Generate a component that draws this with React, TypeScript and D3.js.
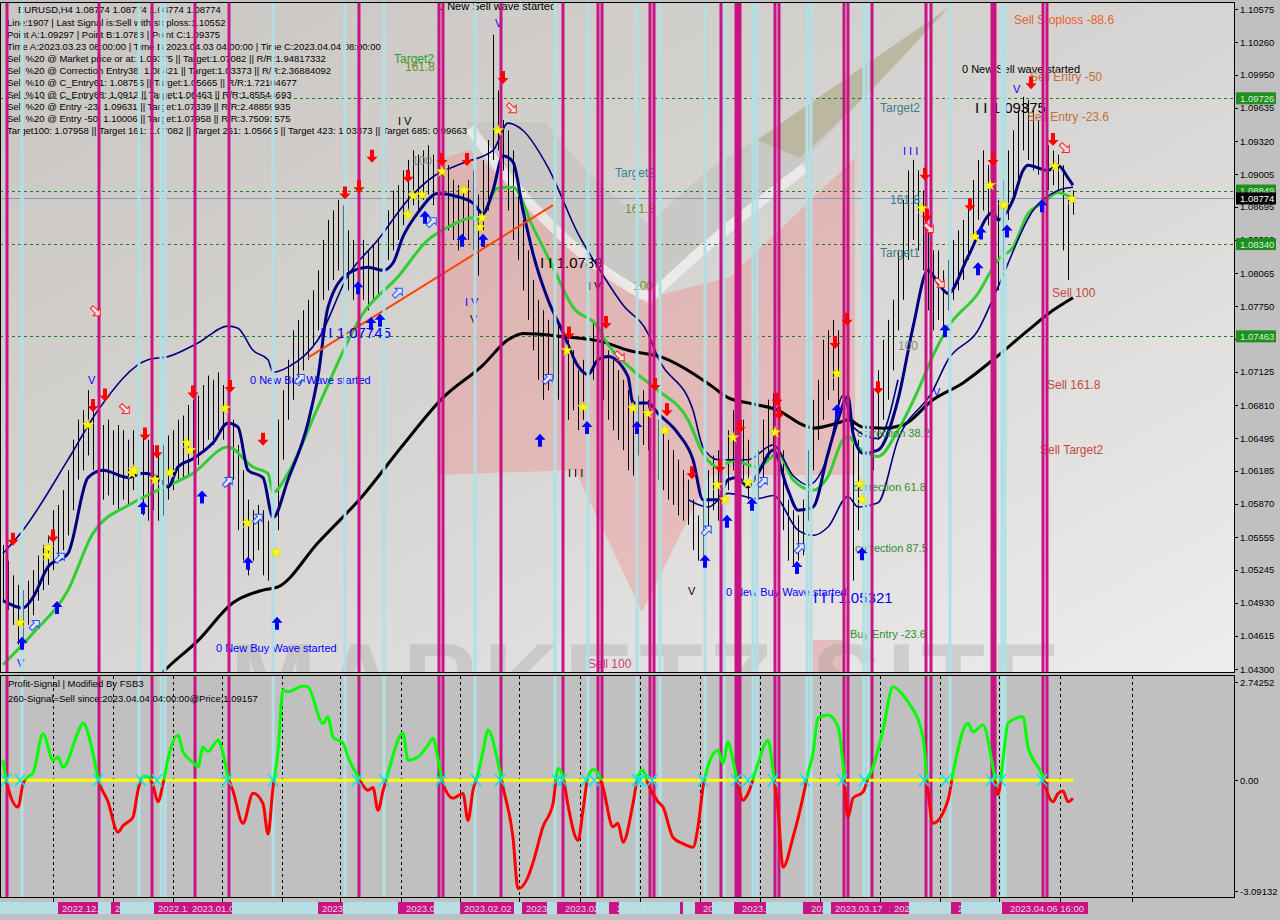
import * as d3 from 'd3';

// ---- price bars (pips, value / 10000) ----
const barHigh = [
  10548, 10533, 10519, 10510, 10505, 10514, 10524, 10538, 10548, 10557,
  10581, 10586, 10600, 10619, 10648, 10667, 10676, 10695, 10686, 10736,
  10662, 10667, 10657, 10662, 10657, 10648, 10657, 10662, 10657, 10648,
  10643, 10638, 10643, 10652, 10657, 10667, 10671, 10681, 10686, 10690,
  10700, 10709, 10705, 10712, 10700, 10695, 10667, 10643, 10619, 10591,
  10581, 10586, 10581, 10571, 10610, 10667, 10695, 10724, 10752, 10762,
  10771, 10781, 10790, 10809, 10838, 10857, 10866, 10876, 10871, 10847,
  10838, 10833, 10838, 10828, 10833, 10838, 10847, 10866, 10885, 10890,
  10904, 10914, 10923, 10919, 10923, 10928, 10919, 10925, 10923, 10909,
  10895, 10890, 10885, 10895, 10904, 10881, 10914, 10933, 11033, 10980,
  10952, 10942, 10923, 10895, 10857, 10828, 10800, 10781, 10771, 10762,
  10771, 10762, 10752, 10743, 10733, 10714, 10724, 10743, 10762, 10752,
  10743, 10733, 10724, 10714, 10705, 10695, 10686, 10690, 10695, 10686,
  10681, 10667, 10657, 10648, 10638, 10629, 10619, 10610, 10591, 10576,
  10591, 10619, 10633, 10638, 10648, 10657, 10676, 10681, 10667, 10648,
  10633, 10638, 10667, 10686, 10692, 10676, 10638, 10591, 10581, 10576,
  10591, 10638, 10686, 10705, 10743, 10752, 10762, 10752, 10766, 10743,
  10667, 10648, 10648, 10667, 10695, 10714, 10743, 10762, 10781, 10828,
  10876, 10904, 10914, 10904, 10885, 10847, 10828, 10828, 10809, 10819,
  10838, 10847, 10857, 10876, 10895, 10914, 10923, 10909, 10885, 10876,
  10895, 10923, 10942, 10961, 10974, 10971, 10961, 10952, 10942, 10928,
  10923, 10919, 10909, 10876, 10885,
];
const barLow = [
  10495, 10486, 10472, 10453, 10457, 10472, 10481, 10495, 10505, 10510,
  10524, 10533, 10543, 10557, 10581, 10610, 10619, 10633, 10619, 10610,
  10591, 10595, 10586, 10581, 10591, 10586, 10600, 10591, 10576, 10571,
  10581, 10571, 10576, 10591, 10600, 10610, 10610, 10614, 10629, 10624,
  10638, 10648, 10643, 10657, 10648, 10638, 10610, 10562, 10533, 10519,
  10533, 10543, 10519, 10514, 10486, 10562, 10629, 10667, 10686, 10705,
  10714, 10724, 10738, 10752, 10781, 10790, 10800, 10809, 10804, 10790,
  10781, 10776, 10781, 10771, 10781, 10785, 10795, 10819, 10828, 10838,
  10852, 10862, 10871, 10866, 10876, 10881, 10871, 10876, 10862, 10847,
  10838, 10828, 10833, 10838, 10828, 10804, 10847, 10866, 10914, 10923,
  10904, 10866, 10838, 10819, 10790, 10762, 10733, 10705, 10686, 10695,
  10705, 10686, 10667, 10667, 10676, 10657, 10667, 10686, 10705, 10695,
  10686, 10667, 10657, 10648, 10638, 10619, 10614, 10633, 10643, 10638,
  10624, 10610, 10600, 10591, 10586, 10576, 10571, 10567, 10543, 10533,
  10533, 10562, 10581, 10571, 10591, 10600, 10619, 10629, 10610, 10591,
  10581, 10591, 10610, 10629, 10638, 10619, 10562, 10533, 10529, 10533,
  10538, 10571, 10619, 10648, 10667, 10686, 10695, 10676, 10686, 10648,
  10514, 10562, 10581, 10600, 10619, 10648, 10667, 10686, 10714, 10752,
  10781, 10819, 10838, 10828, 10809, 10771, 10752, 10762, 10752, 10771,
  10781, 10790, 10800, 10819, 10838, 10857, 10866, 10852, 10819, 10790,
  10809, 10857, 10876, 10895, 10923, 10914, 10904, 10900, 10890, 10885,
  10890, 10885, 10828, 10800, 10862,
];

// ---- moving averages / bands (bar index, pips) ----
const blackMaBars = [28, 32, 39, 46, 52, 55, 63, 72, 80, 88, 96, 101, 104, 112, 120, 125, 132, 138, 142, 145, 150, 155, 160, 162, 167, 169, 172, 176, 180, 186, 192, 198, 205, 210, 214];
const blackMaVals = [10405, 10427, 10457, 10493, 10505, 10508, 10550, 10595, 10643, 10688, 10719, 10743, 10749, 10746, 10741, 10733, 10726, 10711, 10698, 10688, 10682, 10676, 10662, 10659, 10664, 10667, 10660, 10659, 10662, 10686, 10702, 10724, 10752, 10771, 10783];

const greenMaBars = [0, 6, 13, 18, 26, 31, 38, 45, 50, 53, 54, 57, 63, 72, 79, 85, 89, 94, 95, 99, 102, 106, 110, 114, 119, 120, 126, 131, 137, 140, 143, 146, 151, 155, 158, 162, 165, 168, 169, 171, 175, 179, 183, 186, 189, 195, 199, 202, 205, 208, 211, 214];
const greenMaVals = [10434, 10464, 10505, 10559, 10588, 10600, 10616, 10641, 10622, 10616, 10598, 10616, 10679, 10768, 10803, 10838, 10850, 10859, 10857, 10887, 10888, 10850, 10812, 10774, 10755, 10746, 10714, 10695, 10667, 10635, 10622, 10628, 10622, 10635, 10610, 10600, 10613, 10648, 10651, 10641, 10632, 10657, 10695, 10728, 10755, 10787, 10819, 10831, 10863, 10873, 10883, 10877];

const navyBars = [0, 4, 6, 9, 13, 17, 20, 25, 28, 31, 33, 35, 38, 42, 45, 47, 49, 52, 54, 57, 61, 63, 65, 69, 73, 76, 78, 80, 83, 87, 91, 94, 96, 98, 100, 102, 104, 106, 109, 112, 115, 117, 119, 121, 125, 126, 129, 131, 135, 138, 140, 143, 145, 147, 149, 151, 154, 157, 159, 162, 165, 167, 169, 170, 172, 175, 179, 182, 185, 187, 189, 193, 198, 199, 202, 204, 205, 209, 211, 213, 214];
const navyVals = [10495, 10488, 10498, 10527, 10540, 10612, 10619, 10612, 10616, 10612, 10603, 10622, 10630, 10645, 10664, 10660, 10619, 10612, 10574, 10610, 10664, 10708, 10774, 10806, 10812, 10809, 10816, 10841, 10864, 10882, 10879, 10873, 10863, 10885, 10918, 10912, 10866, 10825, 10781, 10750, 10718, 10710, 10724, 10727, 10708, 10683, 10683, 10673, 10654, 10629, 10591, 10591, 10610, 10612, 10603, 10616, 10638, 10600, 10581, 10584, 10635, 10667, 10689, 10654, 10635, 10638, 10686, 10755, 10809, 10797, 10787, 10822, 10864, 10857, 10876, 10904, 10909, 10904, 10909, 10897, 10890];

const upperBars = [0, 4, 13, 19, 29, 33, 39, 45, 47, 50, 53, 54, 57, 63, 69, 75, 81, 86, 92, 98, 101, 104, 109, 115, 119, 124, 129, 131, 138, 140, 143, 149, 154, 158, 161, 165, 168, 170, 175, 179];
const upperVals = [10540, 10562, 10629, 10676, 10724, 10727, 10740, 10756, 10754, 10733, 10724, 10712, 10717, 10743, 10804, 10838, 10876, 10898, 10911, 10923, 10949, 10942, 10907, 10844, 10812, 10776, 10749, 10726, 10676, 10641, 10629, 10629, 10643, 10614, 10605, 10633, 10690, 10660, 10649, 10705];

const lowerBars = [137, 141, 145, 151, 154, 159, 162, 165, 169, 171, 175, 179, 186, 189, 195, 199, 206, 211, 214];
const lowerVals = [10591, 10584, 10597, 10592, 10595, 10562, 10557, 10565, 10594, 10584, 10588, 10648, 10695, 10724, 10752, 10793, 10866, 10885, 10888];

const trendBars = [61, 110];
const trendVals = [10726, 10871];

// ---- signals (bar index, pips) ----
const sellArrowBars = [2, 10, 18, 20.4, 28.4, 30.8, 38, 45.4, 52, 68.4, 71.2, 73.8, 81, 87.8, 92.8, 100, 113.2, 120.6, 130.4, 132.8, 137.8, 143.4, 147.4, 154.8, 155.2, 166.4, 168.8, 175, 184.4, 184.8, 193.4, 198, 205.6, 210];
const sellArrowVals = [10553, 10556, 10680, 10690, 10653, 10636, 10693, 10698, 10648, 10882, 10888, 10917, 10898, 10914, 10914, 10992, 10749, 10759, 10700, 10676, 10616, 10622, 10660, 10686, 10673, 10740, 10762, 10697, 10900, 10861, 10871, 10914, 10987, 10933];
const buyArrowBars = [3.8, 10.8, 28, 39.8, 49, 54.8, 71, 73.6, 75.4, 84.4, 91.8, 96, 107.4, 116.8, 126.8, 140.4, 144.8, 149.8, 158.8, 166.8, 171.8, 188.4, 195, 195.6, 200.8, 207.8];
const buyArrowVals = [10455, 10489, 10584, 10594, 10531, 10474, 10793, 10759, 10762, 10860, 10838, 10838, 10648, 10660, 10660, 10533, 10571, 10587, 10527, 10676, 10540, 10752, 10811, 10845, 10847, 10871];
const starBars = [3.4, 9, 8.8, 17, 25.8, 26.2, 30.4, 33.4, 36.8, 37.4, 44.4, 48.8, 54.6, 81, 82, 83.8, 87.8, 92.2, 95.4, 95.8, 99, 112.8, 116, 126, 129, 132.4, 142.8, 144.4, 146, 149, 154.4, 166.8, 171.4, 171.8, 183.8, 194.4, 197.4, 200.2, 210.4, 213.8];
const starVals = [10474, 10545, 10538, 10662, 10616, 10619, 10610, 10617, 10645, 10638, 10678, 10569, 10541, 10862, 10880, 10881, 10903, 10885, 10850, 10859, 10942, 10733, 10679, 10678, 10673, 10657, 10605, 10591, 10650, 10607, 10655, 10711, 10606, 10591, 10868, 10841, 10890, 10871, 10908, 10877];
const hollowSellBars = [18.6, 24.4, 101.8, 123.4, 185.2, 187.4, 212.4];
const hollowSellVals = [10770, 10677, 10963, 10727, 10849, 10797, 10925];
const hollowBuyBars = [6.4, 11.4, 45, 51, 59.4, 79, 85.8, 109, 140.8, 152, 159.4];
const hollowBuyVals = [10472, 10536, 10608, 10573, 10706, 10788, 10855, 10706, 10562, 10608, 10545];

const chartLabels = [
  { t: '0 New Sell wave started', b: 87, p: 11057, k: 'black' },
  { t: '0 New Sell wave started', b: 191.8, p: 10997, k: 'black' },
  { t: 'I V', b: 79, p: 10947, k: 'black' },
  { t: 'I I  1.0789', b: 107.4, p: 10811, k: 'bigBlack' },
  { t: 'I V', b: 117, p: 10790, k: 'black' },
  { t: 'V', b: 93.4, p: 10759, k: 'black' },
  { t: 'I I I', b: 113, p: 10613, k: 'black' },
  { t: 'V', b: 137, p: 10500, k: 'black' },
  { t: 'I I    1.09375', b: 194.4, p: 10959, k: 'bigBlack' },
  { t: 'V', b: 98.4, p: 11040, k: 'blue' },
  { t: 'I V', b: 92.4, p: 10775, k: 'blue' },
  { t: 'I I 1.07745', b: 63.4, p: 10745, k: 'bigBlue' },
  { t: '0 New Buy Wave started', b: 49.4, p: 10701, k: 'blue' },
  { t: 'V', b: 17, p: 10701, k: 'blue' },
  { t: 'V', b: 2.8, p: 10432, k: 'blue' },
  { t: '0 New Buy Wave started', b: 42.6, p: 10446, k: 'blue' },
  { t: '0 New Buy Wave started', b: 144.6, p: 10499, k: 'blue' },
  { t: 'I I I I 1.05321', b: 160.4, p: 10493, k: 'bigBlue' },
  { t: 'I I I', b: 180, p: 10919, k: 'blue' },
  { t: 'V', b: 202, p: 10978, k: 'blue' },
  { t: 'V', b: 186, p: 10690, k: 'blue' },
  { t: 'Target2', b: 78.2, p: 11006, k: 'green' },
  { t: '161.8', b: 80.4, p: 10999, k: 'olive' },
  { t: '100', b: 81.8, p: 10909, k: 'gray' },
  { t: 'Target2', b: 122.4, p: 10898, k: 'teal' },
  { t: '161.8', b: 124.4, p: 10864, k: 'olive' },
  { t: '100', b: 126, p: 10790, k: 'olive' },
  { t: 'Target2', b: 175.4, p: 10960, k: 'teal' },
  { t: '161.8', b: 177.4, p: 10872, k: 'teal' },
  { t: 'Target1', b: 175.4, p: 10822, k: 'teal' },
  { t: '100', b: 179, p: 10733, k: 'gray' },
  { t: 'correction 38.2', b: 170.8, p: 10651, k: 'corr' },
  { t: 'correction 61.8', b: 170, p: 10599, k: 'corr' },
  { t: 'correction 87.5', b: 170.4, p: 10541, k: 'corr' },
  { t: 'Buy Entry -23.6', b: 169.4, p: 10459, k: 'corr' },
  { t: 'Sell Stoploss -88.6', b: 202.2, p: 11043, k: 'stop' },
  { t: 'Sell Entry -50', b: 205.4, p: 10989, k: 'sell' },
  { t: 'Sell Entry -23.6', b: 204.8, p: 10951, k: 'sell' },
  { t: 'Sell 100', b: 209.8, p: 10784, k: 'sellRed' },
  { t: 'Sell 161.8', b: 208.8, p: 10696, k: 'sellRed' },
  { t: 'Sell Target2', b: 207.4, p: 10634, k: 'sellRed' },
  { t: 'Sell 100', b: 117, p: 10431, k: 'sellPink' },
];

const infoLines = [
  'Line:1907 | Last Signal is:Sell with stoploss:1.10552',
  'Point A:1.09297 | Point B:1.0788 | Point C:1.09375',
  'Time A:2023.03.23 08:00:00 | Time B:2023.04.03 04:00:00 | Time C:2023.04.04 08:00:00',
  'Sell %20 @ Market price or at: 1.09375 || Target:1.07082 || R/R:1.94817332',
  'Sell %20 @ Correction Entry38: 1.08421 || Target:1.03373 || R/R:2.36884092',
  'Sell %10 @ C_Entry61: 1.08756 || Target:1.05665 || R/R:1.72104677',
  'Sell %10 @ C_Entry88: 1.0912 || Target:1.06463 || R/R:1.85544693',
  'Sell %20 @ Entry -23: 1.09631 || Target:1.07339 || R/R:2.48859935',
  'Sell %20 @ Entry -50: 1.10006 || Target:1.07958 || R/R:3.75091575',
  'Target100: 1.07958 || Target 161: 1.07082 || Target 261: 1.05665 || Target 423: 1.03373 || Target 685: 0.99663',
];

// ---- oscillator ----
const oscBars = [0, 1, 3, 4, 5, 6, 8, 10, 11, 12, 15, 16, 18, 19, 21, 23, 24, 26, 27, 28, 29, 30, 31, 32, 33, 35, 36, 38, 39, 40, 41, 43, 44, 45, 46, 48, 50, 52, 53, 54, 55, 56, 57, 60, 61, 64, 65, 66, 68, 69, 71, 72, 73, 74, 75, 76, 77, 80, 81, 83, 85, 86, 87, 88, 90, 92, 93, 94, 95, 96, 97, 99, 100, 102, 103, 105, 106, 108, 110, 111, 112, 113, 115, 116, 117, 118, 119, 120, 122, 123, 124, 126, 127, 128, 129, 131, 132, 134, 136, 138, 139, 140, 141, 143, 144, 145, 146, 147, 148, 149, 151, 153, 154, 155, 156, 158, 160, 161, 162, 163, 165, 167, 168, 169, 170, 172, 173, 174, 176, 178, 180, 181, 184, 185, 186, 189, 190, 193, 194, 196, 198, 199, 200, 201, 204, 205, 207, 208, 209, 210, 211, 212, 213, 214];
const oscVals = [0.56, -0.2, -0.75, -0.1, 0.1, 0.2, 1.3, 0.56, 0.65, 0.36, 1.34, 1.6, 0.75, 0.05, -0.6, -1.45, -1.27, -1.03, -0.28, 0.1, 0.1, -0.15, -0.6, -0.1, 0.6, 1.26, 0.8, 0.5, 0.37, 0.93, 0.8, 1.12, 0.75, 0.1, -0.3, -1.2, -0.36, -0.65, -1.5, -0.2, 0.8, 2.52, 2.47, 2.63, 2.6, 1.59, 1.77, 1.2, 1.04, 0.65, 0.1, -0.15, -0.28, -0.2, -0.84, -0.3, 0.2, 1.31, 0.56, 0.65, 0.98, 1.17, 0.6, -0.1, -0.5, -0.37, -1.12, -0.28, 0.2, 0.8, 1.4, 0.5, -0.19, -1.6, -3.03, -2.7, -2.3, -1.3, -0.65, 0.33, 0.1, -0.7, -1.68, -0.84, 0.1, 0.3, 0.2, -0.2, -1.3, -1.2, -1.73, -0.65, 0.1, 0.28, -0.1, -0.6, -0.75, -1.6, -1.77, -1.87, -1.3, -0.2, 0.4, 0.84, 0.47, 1.07, 0.56, -0.1, -0.56, -0.37, 0.47, 1.12, 0.28, -0.8, -2.43, -1.59, -0.47, 0.2, 0.75, 1.74, 1.82, 1.49, 0.47, -1.03, -0.5, -0.33, 0.05, 0.37, 1.4, 2.61, 2.38, 2.19, 1.2, -0.3, -1.2, -0.56, 0.2, 1.59, 1.35, 1.54, 0.37, -0.4, 0.56, 1.6, 1.77, 0.93, 0.37, 0.1, -0.4, -0.6, -0.37, -0.3, -0.6, -0.5];
const crossBars = [0.6, 3.4, 19, 27.6, 30.8, 44.8, 54, 70.8, 76.2, 87.6, 94.6, 99.4, 110.8, 111.8, 116.6, 118.2, 126.8, 127.4, 129.8, 140, 146.6, 149, 154, 160.4, 167.8, 172.2, 184.2, 188.6, 197.6, 199.6, 207.8];

// ---- time objects ----
const magentaLines = [0.8, 19.2, 29.8, 38.4, 45.2, 71.2, 87.2, 88, 99.6, 112, 119, 119.8, 129.4, 130.2, 143.6, 146.6, 147, 147.4, 154.4, 155.2, 168.2, 169, 173.8, 184.6, 185.6, 197.8, 198.1, 198.4, 208, 208.8];
const magentaTimes = ['2022.12.07 16:00', '2022.12.19 08:00', '2022.12.23 20:00', '2022.12.29 08:00', '2023.01.03 04:00', '2023.01.18 00:00', '2023.01.26 04:00', '2023.01.26 20:00', '2023.02.02 16:00', '2023.02.09 20:00', '2023.02.14 16:00', '2023.02.15 00:00', '2023.02.21 00:00', '2023.02.21 08:00', '2023.02.28 20:00', '2023.03.02 04:00', '2023.03.02 08:00', '2023.03.02 12:00', '2023.03.07 08:00', '2023.03.07 16:00', '2023.03.15 04:00', '2023.03.15 12:00', '2023.03.17 12:00', '2023.03.23 20:00', '2023.03.24 08:00', '2023.03.31 08:00', '2023.03.31 12:00', '2023.03.31 16:00', '2023.04.06 12:00', '2023.04.06 16:00'];
const lightBlueLines = [3.8, 27.2, 31.6, 32.4, 54, 68.4, 76.2, 94.4, 110.4, 117, 126.8, 131.4, 140.4, 144.2, 150, 150.8, 160.8, 161.6, 172.2, 173, 189.4, 199.8, 200.4];
const lightBlueTimes = ['2022.12.09 00:00', '2022.12.22 16:00', '2022.12.26 12:00', '2022.12.26 20:00', '2023.01.06 20:00', '2023.01.16 16:00', '2023.01.20 00:00', '2023.01.31 12:00', '2023.02.09 04:00', '2023.02.13 20:00', '2023.02.20 00:00', '2023.02.21 20:00', '2023.02.27 12:00', '2023.03.01 04:00', '2023.03.03 12:00', '2023.03.03 20:00', '2023.03.10 00:00', '2023.03.10 08:00', '2023.03.16 16:00', '2023.03.17 04:00', '2023.03.27 20:00', '2023.04.03 04:00', '2023.04.03 12:00'];
const sepBars = [10, 22, 34, 43.8, 55.8, 67.4, 79.6, 91.4, 103.2, 115.4, 127.4, 139.4, 151.4, 163.4, 175.4, 187.4, 199.2, 211.4, 225.8];

// ---- axes ----
const priceTicks = [1.10575, 1.1026, 1.0995, 1.09635, 1.0932, 1.09005, 1.08695, 1.0838, 1.08065, 1.0775, 1.0744, 1.07125, 1.0681, 1.06495, 1.06185, 1.0587, 1.05555, 1.05245, 1.0493, 1.04615, 1.043];
const levelPrices = [1.09726, 1.08849, 1.0834, 1.07463];
const lastPrice = 1.08774;
const oscTicks = [2.74252, 0, -3.09132];

const FONT = '"Liberation Sans", Arial, sans-serif';
const MAG = '#c71585';
const LBLUE = '#b0e0e6';

const labelStyle: Record<string, { fill: string; size: number }> = {
  black: { fill: '#000000', size: 11 },
  bigBlack: { fill: '#000000', size: 15 },
  blue: { fill: '#0000ff', size: 11 },
  bigBlue: { fill: '#0000ff', size: 15 },
  green: { fill: '#2e9a2e', size: 12 },
  teal: { fill: '#3a7f8c', size: 12 },
  olive: { fill: '#6f8f28', size: 12 },
  gray: { fill: '#8a8a80', size: 12 },
  corr: { fill: '#2e8b2e', size: 11 },
  sell: { fill: '#c0703a', size: 12 },
  stop: { fill: '#e8602a', size: 12 },
  sellRed: { fill: '#c04a40', size: 12 },
  sellPink: { fill: '#c0407a', size: 12 },
};

const App = () => {
  const x = d3.scaleLinear().domain([0, barHigh.length - 1]).range([3, 1073]);
  const y = d3.scaleLinear().domain([1.043, 1.10575]).range([669, 9]);
  const yo = d3.scaleLinear().domain([-3.09132, 2.74252]).range([891, 682]);
  const py = (v: number) => y(v / 10000);
  const zeroY = yo(0);
  const crisp = (v: number) => Math.round(v) + 0.5;

  const curve = (bars: number[], vals: number[]) =>
    d3
      .line<number>()
      .x((b) => x(b))
      .y((_, k) => py(vals[k]))
      .curve(d3.curveMonotoneX)(bars) ?? '';

  const oscPath =
    d3
      .line<number>()
      .x((b) => x(b))
      .y((_, k) => yo(oscVals[k]))
      .curve(d3.curveMonotoneX)(oscBars) ?? '';

  const star = d3.symbol().type(d3.symbolStar).size(42)() ?? '';
  const downArrow = 'M-2,-7H2V0H5.5L0,6L-5.5,0H-2Z';
  const upArrow = 'M-2,7H2V0H5.5L0,-6L-5.5,0H-2Z';
  const hollow = 'M-6,-2H1V-5L6,0L1,5V2H-6Z';

  const timeLabels = [
    ...lightBlueLines.map((b, k) => ({ b, t: lightBlueTimes[k], c: LBLUE, tc: '#cfd6d8' })),
    ...magentaLines.map((b, k) => ({ b, t: magentaTimes[k], c: MAG, tc: '#f2d2e2' })),
  ].sort((a, b) => a.b - b.b);

  return (
    <svg
      width={1280}
      height={920}
      style={{ position: 'absolute', left: 0, top: 0, display: 'block', background: '#c0c0c0' }}
      fontFamily={FONT}
    >
      <defs>
        <linearGradient id="mainBg" x1="0" y1="0" x2="1" y2="1">
          <stop offset="0" stopColor="#c8c5c2" />
          <stop offset="0.55" stopColor="#d9d7d5" />
          <stop offset="1" stopColor="#eeedec" />
        </linearGradient>
        <clipPath id="mainClip">
          <rect x={1} y={3} width={1233} height={669} />
        </clipPath>
        <clipPath id="oscClip">
          <rect x={1} y={676} width={1233} height={221} />
        </clipPath>
        <clipPath id="oscUp">
          <rect x={0} y={676} width={1234} height={zeroY - 676} />
        </clipPath>
        <clipPath id="oscDn">
          <rect x={0} y={zeroY} width={1234} height={897 - zeroY} />
        </clipPath>
      </defs>

      {/* main panel */}
      <rect x={0.5} y={2.5} width={1234} height={670} fill="url(#mainBg)" />
      <g clipPath="url(#mainClip)">
        {/* watermark logo */}
        <polygon
          points="437,160 470,150 640,300 730,277 855,158 855,475 710,475 642,612 575,470 437,475"
          fill="#f08080"
          opacity={0.35}
        />
        <path
          d="M465,122 L545,122 Q600,190 650,225 Q700,170 757,140 L948,8 L800,165 Q700,240 650,292 Q560,250 465,122 Z"
          fill="#c6c4c2"
          opacity={0.75}
        />
        <path d="M470,128 Q560,255 650,298 Q720,230 805,168" fill="none" stroke="#f4f4f4" strokeWidth={10} opacity={0.7} />
        <polygon points="757,140 948,8 872,90 800,158" fill="#b0aa82" opacity={0.55} />
        <rect x={813} y={640} width={30} height={40} fill="#e08080" opacity={0.4} />
        <text x={230} y={716} fontSize={104} fontWeight="bold" fill="#9a9a9a" opacity={0.3} textLength={830}>
          MARKETZ SITE
        </text>

        {/* level lines */}
        {levelPrices.map((p) => (
          <line key={p} x1={0} x2={1234} y1={crisp(y(p))} y2={crisp(y(p))} stroke="#1f7f1f" strokeDasharray="3,3" />
        ))}
        <line x1={0} x2={1234} y1={crisp(y(lastPrice))} y2={crisp(y(lastPrice))} stroke="#7a9cc0" />

        {/* bars */}
        {barHigh.map((h, i) => (
          <line key={i} x1={crisp(x(i))} x2={crisp(x(i))} y1={py(h)} y2={py(barLow[i])} stroke="#000" strokeWidth={1} />
        ))}

        {/* indicator lines */}
        <path d={curve(blackMaBars, blackMaVals)} fill="none" stroke="#000" strokeWidth={3} />
        <path d={curve(greenMaBars, greenMaVals)} fill="none" stroke="#32cd32" strokeWidth={3} />
        <path d={curve(upperBars, upperVals)} fill="none" stroke="#000080" strokeWidth={1.6} />
        <path d={curve(lowerBars, lowerVals)} fill="none" stroke="#000080" strokeWidth={1.6} />
        <path d={curve(navyBars, navyVals)} fill="none" stroke="#000080" strokeWidth={3} />
        <line x1={x(trendBars[0])} y1={py(trendVals[0])} x2={x(trendBars[1])} y2={py(trendVals[1])} stroke="#ff4500" strokeWidth={2} />

        {/* info block */}
        <text x={18} y={13} fontSize={9.5} fill="#000">
          EURUSD,H4  1.08774 1.08774 1.08774 1.08774
        </text>
        {infoLines.map((t, k) => (
          <text key={t} x={7} y={26 + k * 12} fontSize={9.5} fill="#000">
            {t}
          </text>
        ))}

        {/* chart labels */}
        {chartLabels.map((l, k) => (
          <text key={k} x={x(l.b)} y={py(l.p)} fontSize={labelStyle[l.k].size} fill={labelStyle[l.k].fill}>
            {l.t}
          </text>
        ))}

        {/* vertical time objects */}
        {lightBlueLines.map((b) => (
          <line key={'lb' + b} x1={x(b)} x2={x(b)} y1={0} y2={680} stroke={LBLUE} strokeWidth={3} />
        ))}
        {magentaLines.map((b) => (
          <line key={'mg' + b} x1={x(b)} x2={x(b)} y1={0} y2={680} stroke={MAG} strokeWidth={3} />
        ))}

        {/* signal marks */}
        {hollowSellBars.map((b, k) => (
          <path key={'hs' + k} d={hollow} transform={`translate(${x(b)},${py(hollowSellVals[k])}) rotate(45)`} fill="#f4e0e0" stroke="#ff2020" strokeWidth={1} />
        ))}
        {hollowBuyBars.map((b, k) => (
          <path key={'hb' + k} d={hollow} transform={`translate(${x(b)},${py(hollowBuyVals[k])}) rotate(-45)`} fill="#e0e8f4" stroke="#2050ff" strokeWidth={1} />
        ))}
        {starBars.map((b, k) => (
          <path key={'st' + k} d={star} transform={`translate(${x(b)},${py(starVals[k])})`} fill="#ffff00" stroke="#d8c800" strokeWidth={0.5} />
        ))}
        {sellArrowBars.map((b, k) => (
          <path key={'sa' + k} d={downArrow} transform={`translate(${x(b)},${py(sellArrowVals[k])})`} fill="#ff0000" />
        ))}
        {buyArrowBars.map((b, k) => (
          <path key={'ba' + k} d={upArrow} transform={`translate(${x(b)},${py(buyArrowVals[k])})`} fill="#0000ff" />
        ))}
      </g>
      <rect x={0.5} y={2.5} width={1234} height={670} fill="none" stroke="#000" />

      {/* oscillator panel */}
      <rect x={0.5} y={675.5} width={1234} height={222} fill="#c0c0c0" stroke="#000" />
      <g clipPath="url(#oscClip)">
        {sepBars.map((b) => (
          <line key={'sp' + b} x1={crisp(x(b))} x2={crisp(x(b))} y1={676} y2={897} stroke="#000" strokeDasharray="3,3" />
        ))}
        {lightBlueLines.map((b) => (
          <line key={'lb2' + b} x1={x(b)} x2={x(b)} y1={676} y2={897} stroke={LBLUE} strokeWidth={3} />
        ))}
        {magentaLines.map((b) => (
          <line key={'mg2' + b} x1={x(b)} x2={x(b)} y1={676} y2={897} stroke={MAG} strokeWidth={3} />
        ))}
        <line x1={0} x2={x(barHigh.length - 1)} y1={zeroY} y2={zeroY} stroke="#ffff00" strokeWidth={3} />
        <path d={oscPath} fill="none" stroke="#00ff00" strokeWidth={3} clipPath="url(#oscUp)" />
        <path d={oscPath} fill="none" stroke="#ff0000" strokeWidth={3} clipPath="url(#oscDn)" />
        {crossBars.map((b) => (
          <path key={'cx' + b} d="M-5,-6L5,6M-5,6L5,-6" transform={`translate(${x(b)},${zeroY})`} stroke="#00e5ff" strokeWidth={1.5} />
        ))}
        <text x={8} y={687} fontSize={9.5} fill="#000">
          Profit-Signal | Modified By FSB3
        </text>
        <text x={8} y={702} fontSize={9.5} fill="#000">
          260-Signal=Sell since:2023.04.04 04:00:00@Price:1.09157
        </text>
      </g>

      {/* right price axis */}
      {priceTicks.map((p) => (
        <g key={p}>
          <line x1={1234} x2={1238} y1={crisp(y(p))} y2={crisp(y(p))} stroke="#000" />
          <text x={1240} y={y(p) + 3.5} fontSize={9.5} fill="#000">
            {p.toFixed(5)}
          </text>
        </g>
      ))}
      {levelPrices.map((p) => (
        <g key={'lv' + p}>
          <rect x={1236} y={y(p) - 6} width={40} height={12} fill="#1f8f1f" />
          <text x={1240} y={y(p) + 3.5} fontSize={9.5} fill="#d8f0d8">
            {p.toFixed(5)}
          </text>
        </g>
      ))}
      <rect x={1236} y={y(lastPrice) - 6} width={40} height={12} fill="#000" />
      <text x={1240} y={y(lastPrice) + 3.5} fontSize={9.5} fill="#fff">
        {lastPrice.toFixed(5)}
      </text>
      {oscTicks.map((v) => (
        <g key={'ot' + v}>
          <line x1={1234} x2={1238} y1={crisp(yo(v))} y2={crisp(yo(v))} stroke="#000" />
          <text x={1240} y={yo(v) + 3.5} fontSize={9.5} fill="#000">
            {v === 0 ? '0.00' : v.toFixed(5)}
          </text>
        </g>
      ))}

      {/* time axis */}
      {sepBars.map((b) => (
        <line key={'tk' + b} x1={crisp(x(b))} x2={crisp(x(b))} y1={898} y2={902} stroke="#000" />
      ))}
      {timeLabels.map((l, k) => (
        <g key={'tl' + k}>
          <rect x={Math.max(0, x(l.b) - 41)} y={902} width={82} height={12} fill={l.c} />
          <text x={Math.max(41, x(l.b))} y={911.5} fontSize={9.5} fill={l.tc} textAnchor="middle">
            {l.t}
          </text>
        </g>
      ))}
    </svg>
  );
};

export default App;
